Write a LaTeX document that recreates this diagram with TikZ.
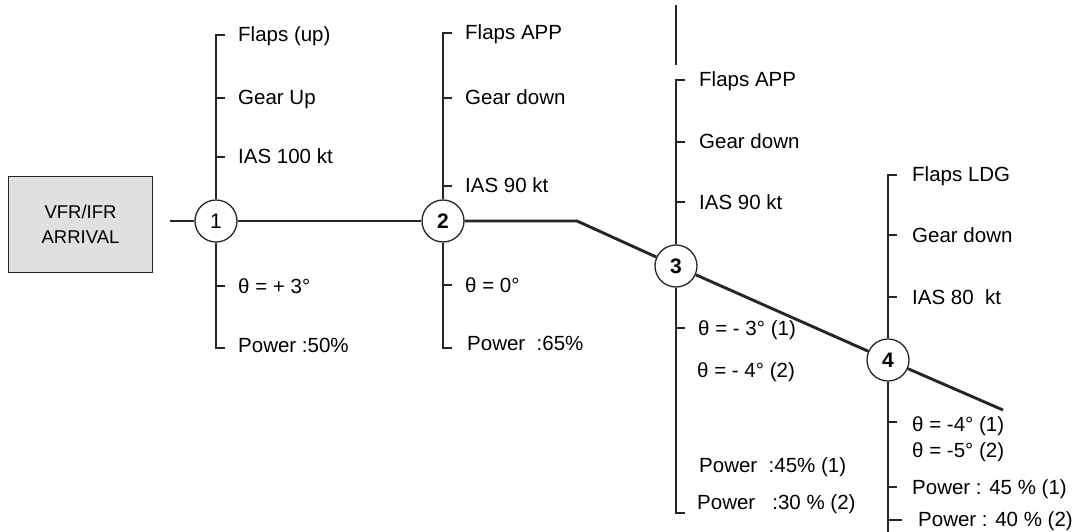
\documentclass[tikz,border=0pt]{standalone}
\usepackage{fontspec}
\setmainfont{Liberation Sans}
\begin{document}
\begin{tikzpicture}[x=1pt,y=-1pt,
  mainline/.style={line width=2.9pt, draw=black!85},
  brk/.style={line width=1.7pt, draw=black!85},
  stn/.style={circle, draw=black!85, line width=1.3pt, fill=white, minimum size=42pt, inner sep=0pt, font=\fontsize{21}{21}\selectfont},
  lbl/.style={anchor=base west, inner sep=0pt, font=\fontsize{20.5}{24}\selectfont, text=black}]
\useasboundingbox (0,0) rectangle (1077,532);

% start box
\node[draw=black!85, line width=1.5pt, fill=black!12, minimum width=144pt, minimum height=96pt, align=center, font=\fontsize{18.5}{25}\selectfont, inner sep=0pt] (box) at (80.5,224.5) {VFR/IFR\\ARRIVAL};

% stations
\node[stn] (n1) at (216,221) {1};
\node[stn] (n2) at (443,221) {\bfseries 2};
\node[stn] (n3) at (676,266) {\bfseries 3};
\node[stn] (n4) at (888,360) {\bfseries 4};

% main path
\coordinate (start) at (170,221);
\coordinate (bend) at (577,221);
\coordinate (fin) at (1003,410);
\draw[mainline] (start) -- (n1.west);
\draw[mainline] (n1.east) -- (n2.west);
\draw[mainline] (n2.east) -- (bend) -- (n3);
\draw[mainline] (n3) -- (n4);
\draw[mainline] (n4) -- (fin);

% ---- station 1
\coordinate (a1) at (216,35);
\coordinate (b1) at (216,348);
\draw[brk] ([xshift=9pt]a1) -- (a1) -- (n1.north);
\draw[brk] (n1.south) -- (b1) -- ([xshift=9pt]b1);
\draw[brk] (216,98) -- ++(9,0);
\draw[brk] (216,157) -- ++(9,0);
\draw[brk] (216,286) -- ++(9,0);
\node[lbl] (l1a) at (238,42) {Flaps (up)};
\node[lbl] (l1b) at (238,105) {Gear Up};
\node[lbl] (l1c) at (238,164) {IAS 100 kt};
\node[lbl] (l1d) at (238,293) {θ = + 3°};
\node[lbl] (l1e) at (238,352) {Power :50\%};

% ---- station 2
\coordinate (a2) at (443,33);
\coordinate (b2) at (443,348);
\draw[brk] ([xshift=9pt]a2) -- (a2) -- (n2.north);
\draw[brk] (n2.south) -- (b2) -- ([xshift=9pt]b2);
\draw[brk] (443,98) -- ++(9,0);
\draw[brk] (443,186) -- ++(9,0);
\draw[brk] (443,285) -- ++(9,0);
\node[lbl] (l2a) at (465,40) {Flaps APP};
\node[lbl] (l2b) at (465,105) {Gear down};
\node[lbl] (l2c) at (465,193) {IAS 90 kt};
\node[lbl] (l2d) at (465,292) {θ = 0°};
\node[lbl] (l2e) at (467,350) {Power ~:65\%};

% ---- station 3
\coordinate (s3a) at (676,5);
\coordinate (s3b) at (676,65);
\draw[brk] (s3a) -- (s3b);
\coordinate (a3) at (676,80);
\coordinate (b3) at (676,513);
\draw[brk] ([xshift=9pt]a3) -- (a3) -- (n3.north);
\draw[brk] (n3.south) -- (b3) -- ([xshift=9pt]b3);
\draw[brk] (676,142) -- ++(9,0);
\draw[brk] (676,202) -- ++(9,0);
\draw[brk] (676,328) -- ++(9,0);
\node[lbl] (l3a) at (699,87) {Flaps APP};
\node[lbl] (l3b) at (699,149) {Gear down};
\node[lbl] (l3c) at (699,209) {IAS 90 kt};
\node[lbl] (l3d) at (698,335) {θ = - 3° (1)};
\node[lbl] (l3e) at (697,377) {θ = - 4° (2)};
\node[lbl] (l3f) at (699,472) {Power ~:45\% (1)};
\node[lbl] (l3g) at (697,509) {Power ~~:30 \% (2)};

% ---- station 4
\coordinate (a4) at (888,175);
\coordinate (b4) at (888,532);
\draw[brk] ([xshift=9pt]a4) -- (a4) -- (n4.north);
\draw[brk] (n4.south) -- (b4);
\draw[brk] (888,235) -- ++(9,0);
\draw[brk] (888,297) -- ++(9,0);
\draw[brk] (888,422) -- ++(9,0);
\draw[brk] (888,487) -- ++(9,0);
\draw[brk] (888,520) -- ++(14,0);
\node[lbl] (l4a) at (912,182) {Flaps LDG};
\node[lbl] (l4b) at (912,242) {Gear down};
\node[lbl] (l4c) at (912,304) {IAS 80 ~kt};
\node[lbl] (l4d) at (912,431) {θ = -4° (1)};
\node[lbl] (l4e) at (912,457) {θ = -5° (2)};
\node[lbl] (l4f) at (912,494) {Power : 45 \% (1)};
\node[lbl] (l4g) at (918,526) {Power : 40 \% (2)};
\end{tikzpicture}
\end{document}
